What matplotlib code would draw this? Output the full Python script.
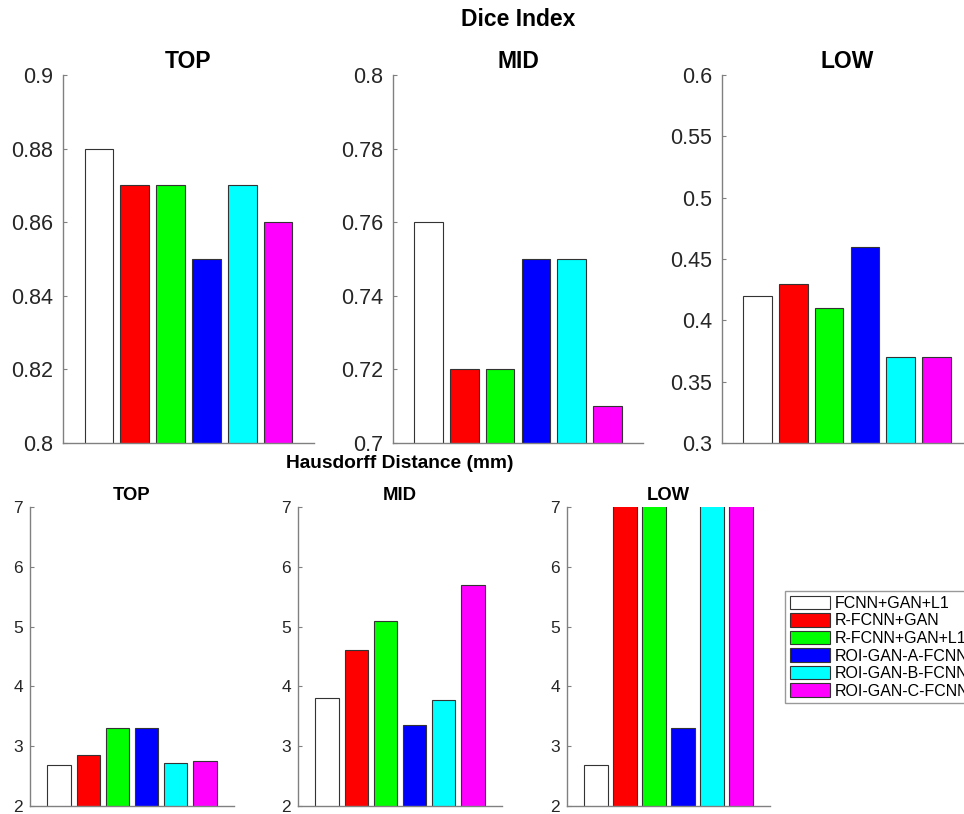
import matplotlib
matplotlib.use("Agg")
import matplotlib.pyplot as plt
from matplotlib.ticker import FormatStrFormatter

plt.rcParams["font.family"] = ["Liberation Sans", "DejaVu Sans"]

# ---- data -------------------------------------------------------------------
methods = ["FCNN+GAN+L1", "R-FCNN+GAN", "R-FCNN+GAN+L1",
           "ROI-GAN-A-FCNN", "ROI-GAN-B-FCNN", "ROI-GAN-C-FCNN"]
colors = ["#ffffff", "#ff0000", "#00ff00", "#0000ff", "#00ffff", "#ff00ff"]
regions = ["TOP", "MID", "LOW"]

dice_top = [0.88, 0.87, 0.87, 0.85, 0.87, 0.86]
dice_mid = [0.76, 0.72, 0.72, 0.75, 0.75, 0.71]
dice_low = [0.42, 0.43, 0.41, 0.46, 0.37, 0.37]

# Hausdorff distance (mm); LOW values above 7 are cut off by the axis
hd_top = [2.69, 2.86, 3.31, 3.31, 2.72, 2.75]
hd_mid = [3.81, 4.61, 5.10, 3.35, 3.78, 5.70]
hd_low = [2.69, 7.5, 7.5, 3.31, 7.5, 7.5]

dice_ylims = [(0.8, 0.9), (0.7, 0.8), (0.3, 0.6)]
dice_steps = [0.02, 0.02, 0.05]
hd_ylim = (2, 7)

W, H = 964, 814
GRAY = "#808080"
TXT = "#262626"


def px_axes(fig, x0, x1, ytop, ybot):
    return fig.add_axes([x0 / W, 1 - ybot / H, (x1 - x0) / W, (ybot - ytop) / H])


def draw(ax, vals, ylim, ticks, fs, pad):
    xs = list(range(1, len(vals) + 1))
    bars = ax.bar(xs, vals, width=0.8, color=colors, edgecolor="#333333",
                  linewidth=0.8, label=methods)
    ax.set_xlim(0, 7)
    ax.set_ylim(*ylim)
    ax.set_yticks(ticks)
    ax.yaxis.set_major_formatter(FormatStrFormatter("%g"))
    ax.set_xticks([])
    for s in ("top", "right"):
        ax.spines[s].set_visible(False)
    for s in ("left", "bottom"):
        ax.spines[s].set_color(GRAY)
        ax.spines[s].set_linewidth(1.0)
    ax.tick_params(axis="y", direction="in", length=3, color=GRAY,
                   labelcolor=TXT, labelsize=fs, pad=pad)
    return bars


fig = plt.figure(figsize=(W / 100, H / 100), dpi=100)

# top row: Dice index
top_x = [(63, 314), (393, 643), (722, 972)]
for (x0, x1), vals, ylim, step, name in zip(
        top_x, [dice_top, dice_mid, dice_low], dice_ylims, dice_steps, regions):
    ax = px_axes(fig, x0, x1, 75, 443)
    n = int(round((ylim[1] - ylim[0]) / step))
    ticks = [ylim[0] + i * step for i in range(n + 1)]
    draw(ax, vals, ylim, ticks, 15.5, 7)
    fig.text((x0 + x1) / 2 / W, 1 - 62 / H, name, ha="center", va="center",
             fontsize=16.5, fontweight="bold")

fig.text(518 / W, 1 - 20 / H, "Dice Index", ha="center", va="center",
         fontsize=16.5, fontweight="bold")

# bottom row: Hausdorff distance
bot_x = [(30, 234), (298, 502), (567, 770)]
handles = None
for (x0, x1), vals, name in zip(bot_x, [hd_top, hd_mid, hd_low], regions):
    ax = px_axes(fig, x0, x1, 507, 806)
    bars = draw(ax, vals, hd_ylim, [2, 3, 4, 5, 6, 7], 12.5, 5)
    handles = bars
    fig.text((x0 + x1) / 2 / W, 1 - 495 / H, name, ha="center", va="center",
             fontsize=13.3, fontweight="bold")

fig.text(400 / W, 1 - 463 / H, "Hausdorff Distance (mm)", ha="center",
         va="center", fontsize=13.8, fontweight="bold")

leg = fig.legend(handles, methods, loc="upper left",
                 bbox_to_anchor=(785 / W, 1 - 591 / H), borderaxespad=0,
                 fontsize=11.5, frameon=True, fancybox=False,
                 handlelength=2.5, handleheight=0.9, handletextpad=0.3,
                 labelspacing=0.15, borderpad=0.3)
leg.get_frame().set_edgecolor(GRAY)
leg.get_frame().set_linewidth(1.0)

fig.savefig("out.png", dpi=100, facecolor="white")
